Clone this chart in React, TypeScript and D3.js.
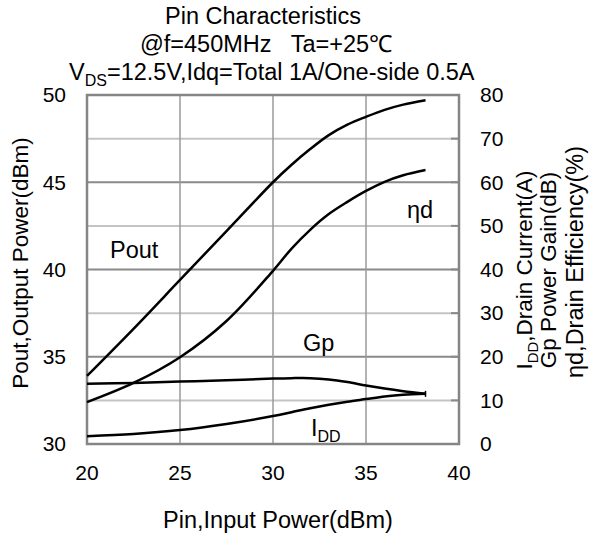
import React from "react";
import * as d3 from "d3";

const pinValues = [20, 22.5, 25, 27.5, 30, 31, 32, 33, 34, 35, 36, 37, 38.2];
const poutValues = [33.9, 36.6, 39.4, 42.2, 45.0, 46.0, 46.9, 47.7, 48.3, 48.75, 49.15, 49.45, 49.7];
const etaValues = [9.6, 14.0, 19.9, 28.2, 39.7, 44.8, 49.1, 52.7, 55.5, 58.0, 60.1, 61.6, 62.8];
const gpValues = [13.8, 14.0, 14.3, 14.6, 15.0, 15.1, 15.1, 14.8, 14.2, 13.4, 12.7, 12.1, 11.5];
const iddValues = [1.8, 2.3, 3.2, 4.6, 6.4, 7.3, 8.2, 9.0, 9.7, 10.3, 10.9, 11.3, 11.5];

const xTicks = [20, 25, 30, 35, 40];
const leftTicks = [30, 35, 40, 45, 50];
const rightTicks = [0, 10, 20, 30, 40, 50, 60, 70, 80];

const FONT = "'Liberation Sans', Arial, Helvetica, sans-serif";

export default function App() {
  const L = 87, R = 459, T = 95, B = 444;
  const x = d3.scaleLinear().domain([20, 40]).range([L, R]);
  const yL = d3.scaleLinear().domain([30, 50]).range([B, T]);
  const yR = d3.scaleLinear().domain([0, 80]).range([B, T]);

  const curve = d3.curveCatmullRom.alpha(0.5);
  const lineL = d3.line<number>().x((_, i) => x(pinValues[i])).y((v) => yL(v)).curve(curve);
  const lineR = d3.line<number>().x((_, i) => x(pinValues[i])).y((v) => yR(v)).curve(curve);

  const lastX = x(pinValues[pinValues.length - 1]);
  const lastY = yR(gpValues[gpValues.length - 1]);

  return (
    <svg width={597} height={536} style={{ position: "absolute", left: 0, top: 0, background: "#fff" }} fontFamily={FONT}>
      <rect x={0} y={0} width={597} height={536} fill="#fff" />
      {rightTicks.filter((t) => t > 0 && t < 80).map((t) => (
        <line key={"h" + t} x1={L} x2={R} y1={yR(t)} y2={yR(t)}
          stroke={t % 20 === 0 ? "#8a8a8a" : "#c4c4c4"} strokeWidth={2} />
      ))}
      {rightTicks.filter((t) => t > 0 && t < 80).map((t) => (
        <line key={"rt" + t} x1={R - 8} x2={R} y1={yR(t)} y2={yR(t)} stroke="#8a8a8a" strokeWidth={2} />
      ))}
      {xTicks.filter((t) => t > 20 && t < 40).map((t) => (
        <line key={"v" + t} x1={x(t)} x2={x(t)} y1={T} y2={B} stroke="#9a9a9a" strokeWidth={1.5} />
      ))}
      <rect x={L} y={T} width={R - L} height={B - T} fill="none" stroke="#858585" strokeWidth={2.5} />

      <path d={lineL(poutValues) || ""} fill="none" stroke="#000" strokeWidth={2.5} />
      <path d={lineR(etaValues) || ""} fill="none" stroke="#000" strokeWidth={2.5} />
      <path d={lineR(gpValues) || ""} fill="none" stroke="#000" strokeWidth={2.5} />
      <path d={lineR(iddValues) || ""} fill="none" stroke="#000" strokeWidth={2.5} />
      <line x1={lastX} x2={lastX} y1={lastY - 3} y2={lastY + 3} stroke="#000" strokeWidth={1.5} />

      <g fontSize={21} fill="#000">
        {leftTicks.map((t) => (
          <text key={"lt" + t} x={66} y={yL(t)} dy="0.35em" textAnchor="end">{t}</text>
        ))}
        {rightTicks.map((t) => (
          <text key={"rl" + t} x={480} y={yR(t)} dy="0.35em" textAnchor="start">{t}</text>
        ))}
        {xTicks.map((t) => (
          <text key={"xt" + t} x={x(t)} y={473} dy="0.35em" textAnchor="middle">{t}</text>
        ))}
      </g>

      <g fontSize={23.5} fill="#000">
        <text x={263} y={24} textAnchor="middle">Pin Characteristics</text>
        <text x={266} y={52} textAnchor="middle" xmlSpace="preserve">@f=450MHz   Ta=+25℃</text>
        <text x={69} y={80}>V<tspan fontSize={16} dy={6}>DS</tspan><tspan dy={-6}>=12.5V,Idq=Total 1A/One-side 0.5A</tspan></text>
        <text x={278} y={528} textAnchor="middle">Pin,Input Power(dBm)</text>
        <text x={110} y={258}>Pout</text>
        <text x={407} y={218}>ηd</text>
        <text x={303} y={351}>Gp</text>
        <text x={311} y={436}>I<tspan fontSize={16} dy={6}>DD</tspan></text>
      </g>
      <g fontSize={22.5} fill="#000">
        <text transform="translate(28,263) rotate(-90)" textAnchor="middle">Pout,Output Power(dBm)</text>
        <text transform="translate(532,270) rotate(-90)" textAnchor="middle">I<tspan fontSize={15} dy={6}>DD</tspan><tspan dy={-6}>,Drain Current(A)</tspan></text>
        <text transform="translate(556,270) rotate(-90)" textAnchor="middle">Gp Power Gain(dB)</text>
        <text transform="translate(583,262) rotate(-90)" textAnchor="middle" fontSize={23.5}>ηd,Drain Efficiency(%)</text>
      </g>
    </svg>
  );
}
